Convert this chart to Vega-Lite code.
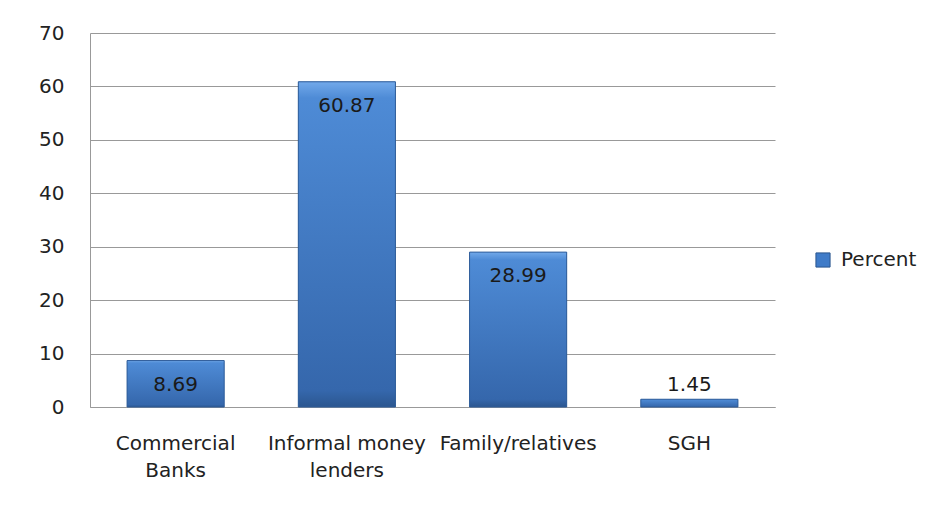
{
  "$schema": "https://vega.github.io/schema/vega-lite/v6.json",
  "width": 685,
  "height": 374,
  "autosize": {"type": "none"},
  "padding": {"left": 90, "top": 33, "right": 162, "bottom": 103},
  "background": "white",
  "data": {"values": [
    {"Source": "Commercial Banks", "Percent": 8.69},
    {"Source": "Informal money lenders", "Percent": 60.87},
    {"Source": "Family/relatives", "Percent": 28.99},
    {"Source": "SGH", "Percent": 1.45}
  ]},
  "config": {
    "font": "DejaVu Sans",
    "view": {"stroke": null},
    "axis": {"labelFont": "DejaVu Sans", "labelFontSize": 20, "labelColor": "#222222", "ticks": false, "domainColor": "#999999", "gridColor": "#999999", "gridWidth": 1}
  },
  "encoding": {
    "x": {"field": "Source", "type": "nominal", "sort": null,
      "scale": {"paddingInner": 0.433, "paddingOuter": 0.2165},
      "axis": {"title": null, "labelAngle": 0, "labelPadding": 26, "labelLineHeight": 27, "labelBaseline": "top", "grid": false,
        "labelExpr": "datum.value == 'Commercial Banks' ? ['Commercial', 'Banks'] : datum.value == 'Informal money lenders' ? ['Informal money', 'lenders'] : datum.value"}},
    "y": {"field": "Percent", "type": "quantitative",
      "scale": {"domain": [0, 70]},
      "axis": {"title": null, "values": [0, 10, 20, 30, 40, 50, 60, 70], "labelPadding": 26, "grid": true}}
  },
  "layer": [
    {
      "mark": {"type": "bar"},
      "encoding": {
        "color": {"datum": "Percent", "type": "nominal",
          "scale": {"range": ["#3F7BC8"]},
          "legend": {"title": null, "orient": "none", "legendX": 723, "legendY": 217, "symbolType": "square", "symbolSize": 200, "symbolStrokeColor": "#2B568F", "symbolStrokeWidth": 1, "symbolOpacity": 1, "labelFont": "DejaVu Sans", "labelFontSize": 20, "labelColor": "#222222", "labelOffset": 8}}
      }
    },
    {
      "mark": {"type": "bar", "strokeWidth": 1, "stroke": "#2E5C99",
        "color": {"gradient": "linear", "x1": 0, "y1": 0, "x2": 0, "y2": 1, "stops": [
            {"offset": 0, "color": "#72A9EA"},
            {"offset": 0.05, "color": "#4E8BD6"},
            {"offset": 0.95, "color": "#3567AC"},
            {"offset": 1, "color": "#2B568F"}]}}
    },
    {
      "transform": [{"filter": "datum.Percent >= 5"}],
      "mark": {"type": "text", "baseline": "top", "dy": 14, "font": "DejaVu Sans", "fontSize": 20, "color": "#1a1a1a"},
      "encoding": {"text": {"field": "Percent", "type": "quantitative", "format": ".2f"}}
    },
    {
      "transform": [{"filter": "datum.Percent < 5"}],
      "mark": {"type": "text", "baseline": "bottom", "dy": -4, "font": "DejaVu Sans", "fontSize": 20, "color": "#1a1a1a"},
      "encoding": {"text": {"field": "Percent", "type": "quantitative", "format": ".2f"}}
    }
  ]
}
